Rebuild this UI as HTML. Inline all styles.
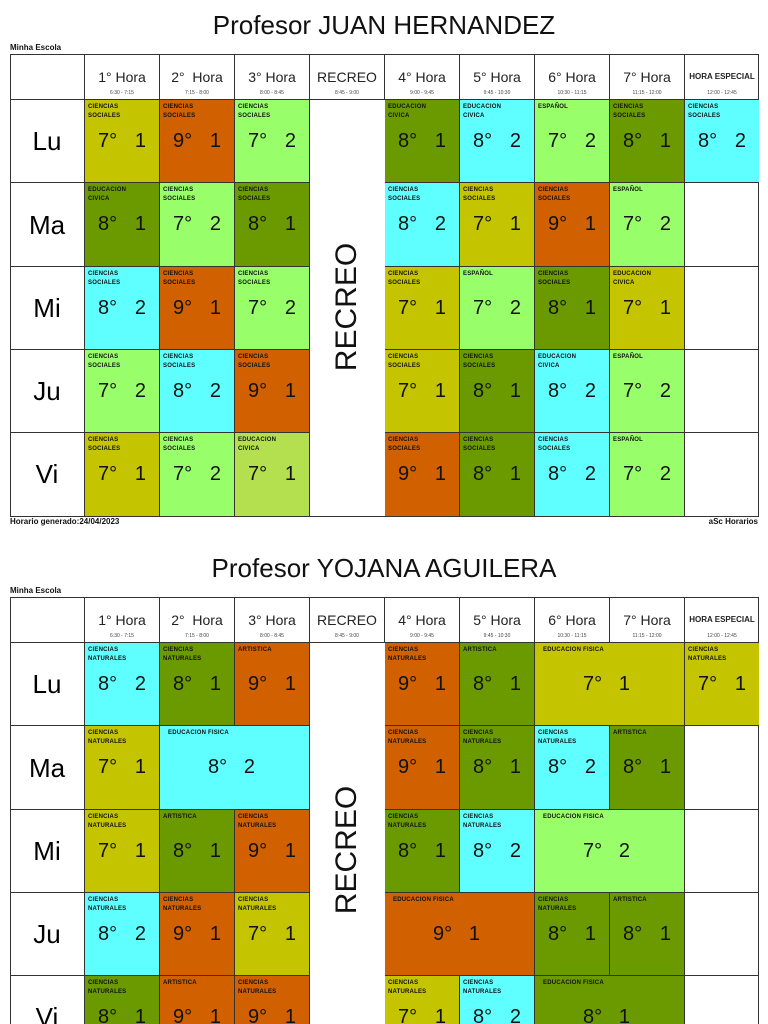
<!DOCTYPE html><html style="overflow:hidden;height:1024px"><head><meta charset="utf-8"><style>
html,body{overflow:hidden}
body{margin:0;width:768px;height:1024px;overflow:hidden;background:#fff;font-family:"Liberation Sans",sans-serif;position:relative}
div{position:absolute;box-sizing:border-box}
.t{width:768px;text-align:center;font-size:26px;color:#111}
.sm{font-size:8px;font-weight:bold;color:#111}
.tb{border:1px solid #333}
.h{border-right:1px solid #333;border-bottom:1px solid #333;height:46px;text-align:center}
.h b{position:absolute;top:15px;left:0;right:0;font-weight:normal;font-size:14px;color:#222}
.h i{position:absolute;top:36px;left:0;right:0;font-style:normal;font-size:5px;color:#444}
.d{border-right:1px solid #333;border-bottom:1px solid #333;font-size:26px;text-align:center;width:75px}
.c{border-right:1px solid #333;border-bottom:1px solid #333;width:75px}
.c s{text-decoration:none;position:absolute;left:3px;top:3px;font-size:6px;font-weight:bold;line-height:9px;width:42px;color:#111;letter-spacing:0.2px}
.c u{text-decoration:none;position:absolute;left:13px;top:30px;font-size:20px;color:#111}
.c em{font-style:normal;position:absolute;right:13px;top:30px;font-size:20px;color:#111}
.w2{width:150px}.w2 s{left:8px;width:140px}.w2 u{left:48px}.w2 em{right:54px}
.y{background:#c4c400}.o{background:#d06000}.g{background:#98ff6a}.dk{background:#6a9a00}.cy{background:#60ffff}
.r{font-size:30px;transform:rotate(-90deg);width:140px;text-align:center;color:#111}
</style></head><body>
<div class="t" style="top:10px">Profesor JUAN HERNANDEZ</div>
<div class="sm" style="left:10px;top:43px">Minha Escola</div>
<div class="tb" style="left:10px;top:54px;width:749px;height:463px"></div>
<div class="h" style="left:10px;top:54px;width:75px"></div>
<div class="h" style="left:85px;top:54px;width:75px"><b>1° Hora</b><i>6:30 - 7:15</i></div>
<div class="h" style="left:160px;top:54px;width:75px"><b>2°&nbsp; Hora</b><i>7:15 - 8:00</i></div>
<div class="h" style="left:235px;top:54px;width:75px"><b>3° Hora</b><i>8:00 - 8:45</i></div>
<div class="h" style="left:310px;top:54px;width:75px"><b>RECREO</b><i>8:45 - 9:00</i></div>
<div class="h" style="left:385px;top:54px;width:75px"><b>4° Hora</b><i>9:00 - 9:45</i></div>
<div class="h" style="left:460px;top:54px;width:75px"><b>5° Hora</b><i>9:45 - 10:30</i></div>
<div class="h" style="left:535px;top:54px;width:75px"><b>6° Hora</b><i>10:30 - 11:15</i></div>
<div class="h" style="left:610px;top:54px;width:75px"><b>7° Hora</b><i>11:15 - 12:00</i></div>
<div class="h" style="left:685px;top:54px;width:74px;border-right:0"><b style="font-size:8px;font-weight:bold;top:18px">HORA ESPECIAL</b><i>12:00 - 12:45</i></div>
<div class="d" style="left:10px;top:100px;height:83px;line-height:83px">Lu</div>
<div class="d" style="left:10px;top:183px;height:84px;line-height:84px">Ma</div>
<div class="d" style="left:10px;top:267px;height:83px;line-height:83px">Mi</div>
<div class="d" style="left:10px;top:350px;height:83px;line-height:83px">Ju</div>
<div class="d" style="left:10px;top:433px;height:83px;line-height:83px;border-bottom:0">Vi</div>
<div class="r" style="left:277px;top:290px">RECREO</div>
<div class="c y" style="left:85px;top:100px;height:83px"><s>CIENCIAS SOCIALES</s><u>7°</u><em>1</em></div>
<div class="c o" style="left:160px;top:100px;height:83px"><s>CIENCIAS SOCIALES</s><u>9°</u><em>1</em></div>
<div class="c g" style="left:235px;top:100px;height:83px"><s>CIENCIAS SOCIALES</s><u>7°</u><em>2</em></div>
<div class="c dk" style="left:385px;top:100px;height:83px"><s>EDUCACION CIVICA</s><u>8°</u><em>1</em></div>
<div class="c cy" style="left:460px;top:100px;height:83px"><s>EDUCACION CIVICA</s><u>8°</u><em>2</em></div>
<div class="c g" style="left:535px;top:100px;height:83px"><s>ESPAÑOL</s><u>7°</u><em>2</em></div>
<div class="c dk" style="left:610px;top:100px;height:83px"><s>CIENCIAS SOCIALES</s><u>8°</u><em>1</em></div>
<div class="c cy" style="left:685px;top:100px;height:83px;width:74px;border-right:0"><s>CIENCIAS SOCIALES</s><u>8°</u><em>2</em></div>
<div class="c dk" style="left:85px;top:183px;height:84px"><s>EDUCACION CIVICA</s><u>8°</u><em>1</em></div>
<div class="c g" style="left:160px;top:183px;height:84px"><s>CIENCIAS SOCIALES</s><u>7°</u><em>2</em></div>
<div class="c dk" style="left:235px;top:183px;height:84px"><s>CIENCIAS SOCIALES</s><u>8°</u><em>1</em></div>
<div class="c cy" style="left:385px;top:183px;height:84px"><s>CIENCIAS SOCIALES</s><u>8°</u><em>2</em></div>
<div class="c y" style="left:460px;top:183px;height:84px"><s>CIENCIAS SOCIALES</s><u>7°</u><em>1</em></div>
<div class="c o" style="left:535px;top:183px;height:84px"><s>CIENCIAS SOCIALES</s><u>9°</u><em>1</em></div>
<div class="c g" style="left:610px;top:183px;height:84px"><s>ESPAÑOL</s><u>7°</u><em>2</em></div>
<div class="c" style="left:685px;top:183px;height:84px;width:74px;border-right:0"></div>
<div class="c cy" style="left:85px;top:267px;height:83px"><s>CIENCIAS SOCIALES</s><u>8°</u><em>2</em></div>
<div class="c o" style="left:160px;top:267px;height:83px"><s>CIENCIAS SOCIALES</s><u>9°</u><em>1</em></div>
<div class="c g" style="left:235px;top:267px;height:83px"><s>CIENCIAS SOCIALES</s><u>7°</u><em>2</em></div>
<div class="c y" style="left:385px;top:267px;height:83px"><s>CIENCIAS SOCIALES</s><u>7°</u><em>1</em></div>
<div class="c g" style="left:460px;top:267px;height:83px"><s>ESPAÑOL</s><u>7°</u><em>2</em></div>
<div class="c dk" style="left:535px;top:267px;height:83px"><s>CIENCIAS SOCIALES</s><u>8°</u><em>1</em></div>
<div class="c y" style="left:610px;top:267px;height:83px"><s>EDUCACION CIVICA</s><u>7°</u><em>1</em></div>
<div class="c" style="left:685px;top:267px;height:83px;width:74px;border-right:0"></div>
<div class="c g" style="left:85px;top:350px;height:83px"><s>CIENCIAS SOCIALES</s><u>7°</u><em>2</em></div>
<div class="c cy" style="left:160px;top:350px;height:83px"><s>CIENCIAS SOCIALES</s><u>8°</u><em>2</em></div>
<div class="c o" style="left:235px;top:350px;height:83px"><s>CIENCIAS SOCIALES</s><u>9°</u><em>1</em></div>
<div class="c y" style="left:385px;top:350px;height:83px"><s>CIENCIAS SOCIALES</s><u>7°</u><em>1</em></div>
<div class="c dk" style="left:460px;top:350px;height:83px"><s>CIENCIAS SOCIALES</s><u>8°</u><em>1</em></div>
<div class="c cy" style="left:535px;top:350px;height:83px"><s>EDUCACION CIVICA</s><u>8°</u><em>2</em></div>
<div class="c g" style="left:610px;top:350px;height:83px"><s>ESPAÑOL</s><u>7°</u><em>2</em></div>
<div class="c" style="left:685px;top:350px;height:83px;width:74px;border-right:0"></div>
<div class="c y" style="left:85px;top:433px;height:83px;border-bottom:0"><s>CIENCIAS SOCIALES</s><u>7°</u><em>1</em></div>
<div class="c g" style="left:160px;top:433px;height:83px;border-bottom:0"><s>CIENCIAS SOCIALES</s><u>7°</u><em>2</em></div>
<div class="c" style="left:235px;top:433px;height:83px;border-bottom:0;background:#b4e050"><s>EDUCACION CIVICA</s><u>7°</u><em>1</em></div>
<div class="c o" style="left:385px;top:433px;height:83px;border-bottom:0"><s>CIENCIAS SOCIALES</s><u>9°</u><em>1</em></div>
<div class="c dk" style="left:460px;top:433px;height:83px;border-bottom:0"><s>CIENCIAS SOCIALES</s><u>8°</u><em>1</em></div>
<div class="c cy" style="left:535px;top:433px;height:83px;border-bottom:0"><s>CIENCIAS SOCIALES</s><u>8°</u><em>2</em></div>
<div class="c g" style="left:610px;top:433px;height:83px;border-bottom:0"><s>ESPAÑOL</s><u>7°</u><em>2</em></div>
<div class="sm" style="left:10px;top:517px">Horario generado:24/04/2023</div>
<div class="sm" style="left:700px;top:517px;width:58px;text-align:right">aSc Horarios</div>

<div class="t" style="top:553px">Profesor YOJANA AGUILERA</div>
<div class="sm" style="left:10px;top:586px">Minha Escola</div>
<div class="tb" style="left:10px;top:597px;width:749px;height:470px"></div>
<div class="h" style="left:10px;top:597px;width:75px"></div>
<div class="h" style="left:85px;top:597px;width:75px"><b>1° Hora</b><i>6:30 - 7:15</i></div>
<div class="h" style="left:160px;top:597px;width:75px"><b>2°&nbsp; Hora</b><i>7:15 - 8:00</i></div>
<div class="h" style="left:235px;top:597px;width:75px"><b>3° Hora</b><i>8:00 - 8:45</i></div>
<div class="h" style="left:310px;top:597px;width:75px"><b>RECREO</b><i>8:45 - 9:00</i></div>
<div class="h" style="left:385px;top:597px;width:75px"><b>4° Hora</b><i>9:00 - 9:45</i></div>
<div class="h" style="left:460px;top:597px;width:75px"><b>5° Hora</b><i>9:45 - 10:30</i></div>
<div class="h" style="left:535px;top:597px;width:75px"><b>6° Hora</b><i>10:30 - 11:15</i></div>
<div class="h" style="left:610px;top:597px;width:75px"><b>7° Hora</b><i>11:15 - 12:00</i></div>
<div class="h" style="left:685px;top:597px;width:74px;border-right:0"><b style="font-size:8px;font-weight:bold;top:18px">HORA ESPECIAL</b><i>12:00 - 12:45</i></div>
<div class="d" style="left:10px;top:643px;height:83px;line-height:83px">Lu</div>
<div class="d" style="left:10px;top:726px;height:84px;line-height:84px">Ma</div>
<div class="d" style="left:10px;top:810px;height:83px;line-height:83px">Mi</div>
<div class="d" style="left:10px;top:893px;height:83px;line-height:83px">Ju</div>
<div class="d" style="left:10px;top:976px;height:83px;line-height:83px">Vi</div>
<div class="r" style="left:277px;top:833px">RECREO</div>
<div class="c cy" style="left:85px;top:643px;height:83px"><s>CIENCIAS NATURALES</s><u>8°</u><em>2</em></div>
<div class="c dk" style="left:160px;top:643px;height:83px"><s>CIENCIAS NATURALES</s><u>8°</u><em>1</em></div>
<div class="c o" style="left:235px;top:643px;height:83px"><s>ARTISTICA</s><u>9°</u><em>1</em></div>
<div class="c o" style="left:385px;top:643px;height:83px"><s>CIENCIAS NATURALES</s><u>9°</u><em>1</em></div>
<div class="c dk" style="left:460px;top:643px;height:83px"><s>ARTISTICA</s><u>8°</u><em>1</em></div>
<div class="c y w2" style="left:535px;top:643px;height:83px"><s>EDUCACION FISICA</s><u>7°</u><em>1</em></div>
<div class="c y" style="left:685px;top:643px;height:83px;width:74px;border-right:0"><s>CIENCIAS NATURALES</s><u>7°</u><em>1</em></div>
<div class="c y" style="left:85px;top:726px;height:84px"><s>CIENCIAS NATURALES</s><u>7°</u><em>1</em></div>
<div class="c cy w2" style="left:160px;top:726px;height:84px"><s>EDUCACION FISICA</s><u>8°</u><em>2</em></div>
<div class="c o" style="left:385px;top:726px;height:84px"><s>CIENCIAS NATURALES</s><u>9°</u><em>1</em></div>
<div class="c dk" style="left:460px;top:726px;height:84px"><s>CIENCIAS NATURALES</s><u>8°</u><em>1</em></div>
<div class="c cy" style="left:535px;top:726px;height:84px"><s>CIENCIAS NATURALES</s><u>8°</u><em>2</em></div>
<div class="c dk" style="left:610px;top:726px;height:84px"><s>ARTISTICA</s><u>8°</u><em>1</em></div>
<div class="c" style="left:685px;top:726px;height:84px;width:74px;border-right:0"></div>
<div class="c y" style="left:85px;top:810px;height:83px"><s>CIENCIAS NATURALES</s><u>7°</u><em>1</em></div>
<div class="c dk" style="left:160px;top:810px;height:83px"><s>ARTISTICA</s><u>8°</u><em>1</em></div>
<div class="c o" style="left:235px;top:810px;height:83px"><s>CIENCIAS NATURALES</s><u>9°</u><em>1</em></div>
<div class="c dk" style="left:385px;top:810px;height:83px"><s>CIENCIAS NATURALES</s><u>8°</u><em>1</em></div>
<div class="c cy" style="left:460px;top:810px;height:83px"><s>CIENCIAS NATURALES</s><u>8°</u><em>2</em></div>
<div class="c g w2" style="left:535px;top:810px;height:83px"><s>EDUCACION FISICA</s><u>7°</u><em>2</em></div>
<div class="c" style="left:685px;top:810px;height:83px;width:74px;border-right:0"></div>
<div class="c cy" style="left:85px;top:893px;height:83px"><s>CIENCIAS NATURALES</s><u>8°</u><em>2</em></div>
<div class="c o" style="left:160px;top:893px;height:83px"><s>CIENCIAS NATURALES</s><u>9°</u><em>1</em></div>
<div class="c y" style="left:235px;top:893px;height:83px"><s>CIENCIAS NATURALES</s><u>7°</u><em>1</em></div>
<div class="c o w2" style="left:385px;top:893px;height:83px"><s>EDUCACION FISICA</s><u>9°</u><em>1</em></div>
<div class="c dk" style="left:535px;top:893px;height:83px"><s>CIENCIAS NATURALES</s><u>8°</u><em>1</em></div>
<div class="c dk" style="left:610px;top:893px;height:83px"><s>ARTISTICA</s><u>8°</u><em>1</em></div>
<div class="c" style="left:685px;top:893px;height:83px;width:74px;border-right:0"></div>
<div class="c dk" style="left:85px;top:976px;height:83px"><s>CIENCIAS NATURALES</s><u>8°</u><em>1</em></div>
<div class="c o" style="left:160px;top:976px;height:83px"><s>ARTISTICA</s><u>9°</u><em>1</em></div>
<div class="c o" style="left:235px;top:976px;height:83px"><s>CIENCIAS NATURALES</s><u>9°</u><em>1</em></div>
<div class="c y" style="left:385px;top:976px;height:83px"><s>CIENCIAS NATURALES</s><u>7°</u><em>1</em></div>
<div class="c cy" style="left:460px;top:976px;height:83px"><s>CIENCIAS NATURALES</s><u>8°</u><em>2</em></div>
<div class="c dk w2" style="left:535px;top:976px;height:83px"><s>EDUCACION FISICA</s><u>8°</u><em>1</em></div>
</body></html>
